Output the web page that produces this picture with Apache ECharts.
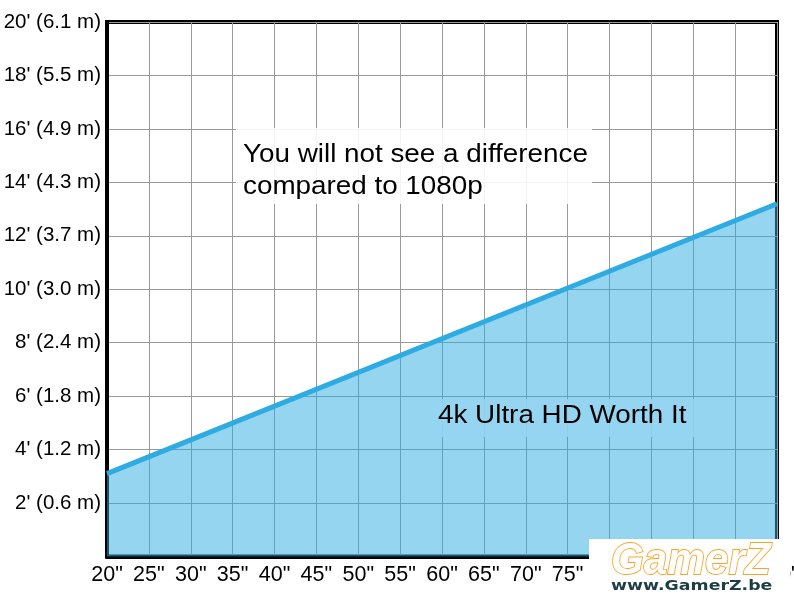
<!DOCTYPE html>
<html>
<head>
<meta charset="utf-8">
<script src="https://cdn.jsdelivr.net/npm/echarts@6/dist/echarts.min.js"></script>
<style>html,body{margin:0;padding:0;background:#fff;overflow:hidden}#c{width:794px;height:600px}</style>
</head>
<body>
<div id="c"></div>
<script>
// Data
const screenSizes = [20, 100];          // inches
const viewDistance = [3.1, 13.2];       // feet
const yTickValues = [2, 4, 6, 8, 10, 12, 14, 16, 18, 20];
const yTickLabels = ["2' (0.6 m)", "4' (1.2 m)", "6' (1.8 m)", "8' (2.4 m)", "10' (3.0 m)",
                     "12' (3.7 m)", "14' (4.3 m)", "16' (4.9 m)", "18' (5.5 m)", "20' (6.1 m)"];
const xTickValues = [20, 25, 30, 35, 40, 45, 50, 55, 60, 65, 70, 75, 80, 85, 90, 95, 100];
const xTickLabels = xTickValues.map(v => v + '"');
const noteTop = ['You will not see a difference', 'compared to 1080p'];
const noteBottom = '4k Ultra HD Worth It';

const FONT = 'Liberation Sans, Arial, sans-serif';
const chart = echarts.init(document.getElementById('c'), null, {renderer: 'canvas', width: 794, height: 600});
chart.setOption({
  animation: false,
  backgroundColor: '#ffffff',
  grid: {left: 107, right: 17, top: 22, bottom: 43.5, show: true,
         outerBoundsMode: 'none', containLabel: false,
         borderColor: '#000', borderWidth: 4, backgroundColor: 'transparent'},
  xAxis: {
    type: 'value', min: 20, max: 100, interval: 5,
    axisLine: {show: true, lineStyle: {color: '#000', width: 4}},
    axisTick: {show: false},
    axisLabel: {color: '#000', fontSize: 21.5, fontFamily: FONT, margin: 8,
                formatter: v => { const i = xTickValues.indexOf(v); return i >= 0 ? xTickLabels[i] : ''; }},
    splitLine: {show: true, lineStyle: {color: '#999', width: 1}}
  },
  yAxis: {
    type: 'value', min: 0, max: 20, interval: 2,
    axisLine: {show: true, lineStyle: {color: '#000', width: 4}},
    axisTick: {show: false},
    axisLabel: {color: '#000', fontSize: 20.5, fontFamily: FONT, margin: 6,
                formatter: v => { const i = yTickValues.indexOf(v); return i >= 0 ? yTickLabels[i] : ''; }},
    splitLine: {show: true, lineStyle: {color: '#999', width: 1}}
  },
  series: [{
    type: 'line',
    data: screenSizes.map((x, i) => [x, viewDistance[i]]),
    showSymbol: false,
    lineStyle: {color: '#2dabe2', width: 5},
    areaStyle: {color: '#2dabe1', opacity: 0.5},
    z: 3
  }],
  graphic: [
    {type: 'rect', left: 236, top: 128, shape: {width: 356, height: 76},
     style: {fill: '#fff', opacity: 0.88}, z: 10},
    {type: 'text', x: 243, y: 139, scaleX: 1.07, z: 11,
     style: {text: noteTop.join('\n'), font: '26px ' + FONT, lineHeight: 32, fill: '#000'}},
    {type: 'rect', left: 430, top: 399, shape: {width: 270, height: 38},
     style: {fill: '#96d5f0', opacity: 0.88}, z: 10},
    {type: 'text', x: 438, y: 400, scaleX: 1.07, z: 11,
     style: {text: noteBottom, font: '26px ' + FONT, lineHeight: 32, fill: '#000'}},
    // watermark
    {type: 'rect', left: 589, top: 539, shape: {width: 201, height: 61},
     style: {fill: '#fff'}, z: 20},
    {type: 'text', x: 611, y: 540, scaleX: 0.96, z: 21,
     style: {text: 'GamerZ', font: 'italic bold 44px ' + FONT, fill: '#fff',
             stroke: '#f7a52a', lineWidth: 1.8}},
    {type: 'text', x: 611, y: 579, scaleX: 1.24, z: 21,
     style: {text: 'www.GamerZ.be', font: 'bold 14px DejaVu Sans', fill: '#1e3d44'}}
  ]
});
</script>
</body>
</html>
